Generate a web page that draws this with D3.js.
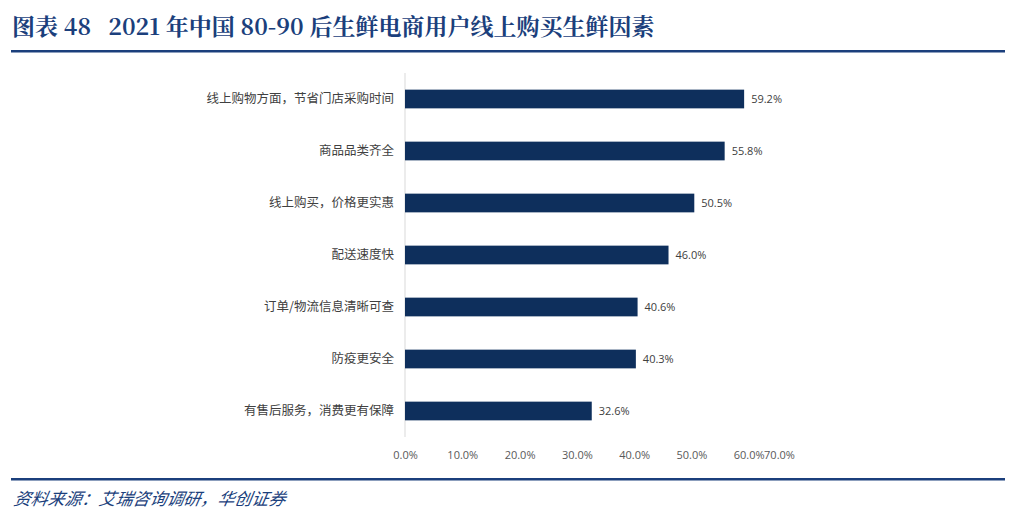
<!DOCTYPE html>
<html><head><meta charset="utf-8">
<script src="https://cdn.jsdelivr.net/npm/d3@7"></script>
<style>body{margin:0;background:#fff}</style>
</head><body><div id="chart"></div>
<script>
let categories = ['线上购物方面，节省门店采购时间', '商品品类齐全', '线上购买，价格更实惠', '配送速度快', '订单/物流信息清晰可查', '防疫更安全', '有售后服务，消费更有保障']
let values = [59.2, 55.8, 50.5, 46.0, 40.6, 40.3, 32.6]
let ticks = [0, 10, 20, 30, 40, 50, 60, 70]

let svg = d3.select('#chart').append('svg')
    .attr('width', 1024).attr('height', 524)

svg.append('text')
    .attr('x', 12).attr('y', 35)
    .style('white-space', 'pre')
    .attr('font-family', '"Noto Serif CJK SC", "Noto Sans CJK SC", serif')
    .attr('font-weight', 'bold').attr('font-size', 23)
    .attr('fill', '#1b3f7c')
    .text('图表 48   2021 年中国 80-90 后生鲜电商用户线上购买生鲜因素')

svg.append('rect').attr('x', 11).attr('y', 50).attr('width', 994).attr('height', 2.5).attr('fill', '#1b3f7c')
svg.append('rect').attr('x', 11).attr('y', 478).attr('width', 994).attr('height', 2.5).attr('fill', '#1b3f7c')

svg.append('text')
    .attr('x', 14).attr('y', 505)
    .attr('font-family', '"Noto Sans CJK SC", sans-serif')
    .attr('font-style', 'italic').attr('font-size', 17)
    .attr('fill', '#1b3f7c')
    .attr('transform', 'skewX(-10) translate(88,0)')
    .text('资料来源：艾瑞咨询调研，华创证券')

let x = d3.scaleLinear().domain([0, 70]).range([405, 806])
let y = d3.scaleBand().domain(categories).range([73, 437]).paddingInner(0.64).paddingOuter(0.32)

svg.append('line').attr('x1', 405).attr('x2', 405).attr('y1', 73).attr('y2', 437)
    .attr('stroke', '#d9d9d9')

let xAxis = svg.append('g').attr('transform', 'translate(0,437)')
    .call(d3.axisBottom(x).tickValues(ticks).tickFormat(d => d.toFixed(1) + '%').tickSize(0).tickPadding(14))
xAxis.select('.domain').remove()
xAxis.selectAll('text').attr('font-family', '"Open Sans", sans-serif').attr('font-size', 11).attr('fill', '#595959')
// last label sits clipped against the plot edge in the original
xAxis.selectAll('.tick').filter(d => d === 70).select('text').attr('dx', -27)

let yAxis = svg.append('g').attr('transform', 'translate(405,0)')
    .call(d3.axisLeft(y).tickSize(0).tickPadding(11))
yAxis.select('.domain').remove()
yAxis.selectAll('text').attr('font-family', '"Noto Sans CJK SC", sans-serif').attr('font-size', 12.5).attr('fill', '#404040')

svg.selectAll('.bar').data(values).enter().append('rect')
    .attr('class', 'bar')
    .attr('x', x(0))
    .attr('y', (d, i) => y(categories[i]))
    .attr('width', d => x(d) - x(0))
    .attr('height', y.bandwidth())
    .attr('fill', '#0e2f5c')

svg.selectAll('.lbl').data(values).enter().append('text')
    .attr('x', d => x(d) + 7)
    .attr('y', (d, i) => y(categories[i]) + y.bandwidth() / 2 + 4)
    .attr('font-family', '"Open Sans", sans-serif').attr('font-size', 11).attr('fill', '#404040')
    .text(d => d.toFixed(1) + '%')
</script></body></html>
